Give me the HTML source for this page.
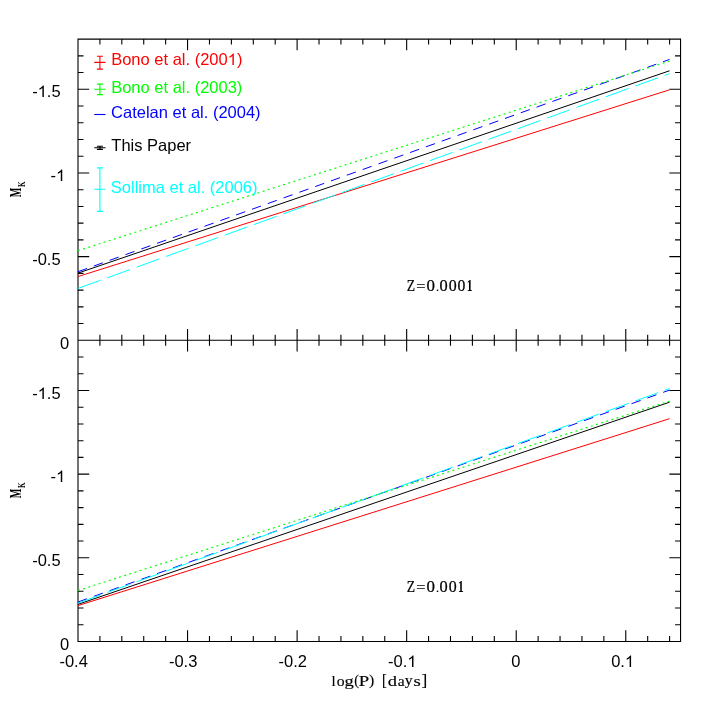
<!DOCTYPE html>
<html><head><meta charset="utf-8"><title>PLK relations</title>
<style>html,body{margin:0;padding:0;background:#fff;}svg{display:block;will-change:transform;}text{font-family:"Liberation Sans",sans-serif;}.s{font-family:"Liberation Serif",serif;}</style></head><body>
<svg width="718" height="718" viewBox="0 0 718 718">
<rect x="0" y="0" width="718" height="718" fill="#fff"/>
<path d="M99.91 39.10v5.5M99.91 334.80v11.0M99.91 641.45v-5.5M121.82 39.10v5.5M121.82 334.80v11.0M121.82 641.45v-5.5M143.73 39.10v5.5M143.73 334.80v11.0M143.73 641.45v-5.5M165.64 39.10v5.5M165.64 334.80v11.0M165.64 641.45v-5.5M187.55 39.10v11.2M187.55 329.10v22.4M187.55 641.45v-11.2M209.47 39.10v5.5M209.47 334.80v11.0M209.47 641.45v-5.5M231.38 39.10v5.5M231.38 334.80v11.0M231.38 641.45v-5.5M253.29 39.10v5.5M253.29 334.80v11.0M253.29 641.45v-5.5M275.20 39.10v5.5M275.20 334.80v11.0M275.20 641.45v-5.5M297.11 39.10v11.2M297.11 329.10v22.4M297.11 641.45v-11.2M319.02 39.10v5.5M319.02 334.80v11.0M319.02 641.45v-5.5M340.93 39.10v5.5M340.93 334.80v11.0M340.93 641.45v-5.5M362.84 39.10v5.5M362.84 334.80v11.0M362.84 641.45v-5.5M384.75 39.10v5.5M384.75 334.80v11.0M384.75 641.45v-5.5M406.66 39.10v11.2M406.66 329.10v22.4M406.66 641.45v-11.2M428.57 39.10v5.5M428.57 334.80v11.0M428.57 641.45v-5.5M450.49 39.10v5.5M450.49 334.80v11.0M450.49 641.45v-5.5M472.40 39.10v5.5M472.40 334.80v11.0M472.40 641.45v-5.5M494.31 39.10v5.5M494.31 334.80v11.0M494.31 641.45v-5.5M516.22 39.10v11.2M516.22 329.10v22.4M516.22 641.45v-11.2M538.13 39.10v5.5M538.13 334.80v11.0M538.13 641.45v-5.5M560.04 39.10v5.5M560.04 334.80v11.0M560.04 641.45v-5.5M581.95 39.10v5.5M581.95 334.80v11.0M581.95 641.45v-5.5M603.86 39.10v5.5M603.86 334.80v11.0M603.86 641.45v-5.5M625.77 39.10v11.2M625.77 329.10v22.4M625.77 641.45v-11.2M647.68 39.10v5.5M647.68 334.80v11.0M647.68 641.45v-5.5M669.59 39.10v5.5M669.59 334.80v11.0M669.59 641.45v-5.5M78.00 323.57h5.5M680.55 323.57h-5.5M78.00 624.72h5.5M680.55 624.72h-5.5M78.00 306.83h5.5M680.55 306.83h-5.5M78.00 607.99h5.5M680.55 607.99h-5.5M78.00 290.10h5.5M680.55 290.10h-5.5M78.00 591.26h5.5M680.55 591.26h-5.5M78.00 273.37h5.5M680.55 273.37h-5.5M78.00 574.53h5.5M680.55 574.53h-5.5M78.00 256.63h11.2M680.55 256.63h-11.2M78.00 557.80h11.2M680.55 557.80h-11.2M78.00 239.90h5.5M680.55 239.90h-5.5M78.00 541.07h5.5M680.55 541.07h-5.5M78.00 223.17h5.5M680.55 223.17h-5.5M78.00 524.34h5.5M680.55 524.34h-5.5M78.00 206.43h5.5M680.55 206.43h-5.5M78.00 507.61h5.5M680.55 507.61h-5.5M78.00 189.70h5.5M680.55 189.70h-5.5M78.00 490.88h5.5M680.55 490.88h-5.5M78.00 172.97h11.2M680.55 172.97h-11.2M78.00 474.14h11.2M680.55 474.14h-11.2M78.00 156.23h5.5M680.55 156.23h-5.5M78.00 457.41h5.5M680.55 457.41h-5.5M78.00 139.50h5.5M680.55 139.50h-5.5M78.00 440.68h5.5M680.55 440.68h-5.5M78.00 122.77h5.5M680.55 122.77h-5.5M78.00 423.95h5.5M680.55 423.95h-5.5M78.00 106.03h5.5M680.55 106.03h-5.5M78.00 407.22h5.5M680.55 407.22h-5.5M78.00 89.30h11.2M680.55 89.30h-11.2M78.00 390.49h11.2M680.55 390.49h-11.2M78.00 72.57h5.5M680.55 72.57h-5.5M78.00 373.76h5.5M680.55 373.76h-5.5M78.00 55.83h5.5M680.55 55.83h-5.5M78.00 357.03h5.5M680.55 357.03h-5.5" stroke="#000" stroke-width="1.1" fill="none"/>
<path d="M78.0 39.1H680.55V641.45H78.0Z M78.0 340.3H680.55" stroke="#000" stroke-width="1.1" fill="none" stroke-linejoin="miter"/>
<path d="M78.00 276.55L669.59 89.8" stroke="#ff0000" stroke-width="1.0" fill="none"/>
<path d="M78.00 273.1L669.59 70.75" stroke="#000" stroke-width="1.0" fill="none"/>
<path d="M78.00 271.7L669.59 59.4" stroke="#0000ff" stroke-width="1.0" fill="none" stroke-dasharray="9.6 7.2"/>
<path d="M78.00 288.45L669.59 73.6" stroke="#00ffff" stroke-width="1.0" fill="none" stroke-dasharray="24.2 7"/>
<path d="M78.00 250.65L669.59 61.0" stroke="#00ff00" fill="none" stroke-dasharray="2.0 3.385" stroke-width="1.15"/>
<path d="M78.00 605.6L669.59 418.7" stroke="#ff0000" stroke-width="1.0" fill="none"/>
<path d="M78.00 604.3L669.59 402.2" stroke="#000" stroke-width="1.0" fill="none"/>
<path d="M78.00 602.0L669.59 390.05" stroke="#0000ff" stroke-width="1.0" fill="none" stroke-dasharray="9.6 7.2"/>
<path d="M78.00 603.1L669.59 388.5" stroke="#00ffff" stroke-width="1.0" fill="none" stroke-dasharray="24.2 7"/>
<path d="M78.00 590.5L669.59 401.1" stroke="#00ff00" fill="none" stroke-dasharray="2.0 3.385" stroke-width="1.15"/>
<path d="M94.25 62.4H105.55000000000001M99.9 56.3V69.1M96.9 56.3h6.0M96.9 69.1h6.0" stroke="#ff0000" stroke-width="1.1" fill="none"/>
<path d="M94.25 89.3H105.55000000000001M99.9 84.1V94.6M96.9 84.1h6.0M96.9 94.6h6.0" stroke="#00ff00" stroke-width="1.1" fill="none"/>
<path d="M94.25 114.5H105.55000000000001" stroke="#0000ff" stroke-width="1.1" fill="none"/>
<path d="M94.25 147.8H105.55000000000001M99.9 146.3V149.4M96.9 146.3h6.0M96.9 149.4h6.0" stroke="#000" stroke-width="1.1" fill="none"/>
<path d="M94.25 189.3H105.55000000000001M99.9 167.9V211.4M96.9 167.9h6.0M96.9 211.4h6.0" stroke="#00ffff" stroke-width="1.1" fill="none"/>
<text x="111.20" y="65" font-size="16.5" fill="#ff0000">Bono et al. (200</text>
<path transform="translate(227.70 65) scale(0.00806 -0.00806)" d="M763 0H583V1114Q518 1054 412 994Q307 934 223 904V1073Q374 1142 487 1240Q600 1338 647 1430H763Z" fill="#ff0000"/>
<text x="236.88" y="65" font-size="16.5" fill="#ff0000">)</text>
<text x="111.2" y="93" font-size="16.5" fill="#00ff00" text-anchor="start">Bono et al. (2003)</text>
<text x="111.1" y="118" font-size="16.5" fill="#0000ff" text-anchor="start">Catelan et al. (2004)</text>
<text x="111.3" y="151" font-size="16.5" fill="#000" text-anchor="start">This Paper</text>
<text x="110.8" y="193" font-size="16.5" fill="#00ffff" text-anchor="start">Sollima et al. (2006)</text>
<text x="32.20" y="97" font-size="16.5" fill="#000">-</text>
<path transform="translate(37.69 97) scale(0.00806 -0.00806)" d="M763 0H583V1114Q518 1054 412 994Q307 934 223 904V1073Q374 1142 487 1240Q600 1338 647 1430H763Z" fill="#000"/>
<text x="46.87" y="97" font-size="16.5" fill="#000">.5</text>
<text x="50.60" y="181" font-size="16.5" fill="#000">-</text>
<path transform="translate(56.09 181) scale(0.00806 -0.00806)" d="M763 0H583V1114Q518 1054 412 994Q307 934 223 904V1073Q374 1142 487 1240Q600 1338 647 1430H763Z" fill="#000"/>
<text x="32.2" y="265" font-size="16.5" fill="#000" text-anchor="start">-0.5</text>
<text x="32.20" y="399" font-size="16.5" fill="#000">-</text>
<path transform="translate(37.69 399) scale(0.00806 -0.00806)" d="M763 0H583V1114Q518 1054 412 994Q307 934 223 904V1073Q374 1142 487 1240Q600 1338 647 1430H763Z" fill="#000"/>
<text x="46.87" y="399" font-size="16.5" fill="#000">.5</text>
<text x="50.60" y="482" font-size="16.5" fill="#000">-</text>
<path transform="translate(56.09 482) scale(0.00806 -0.00806)" d="M763 0H583V1114Q518 1054 412 994Q307 934 223 904V1073Q374 1142 487 1240Q600 1338 647 1430H763Z" fill="#000"/>
<text x="32.2" y="566" font-size="16.5" fill="#000" text-anchor="start">-0.5</text>
<text x="59.9" y="650" font-size="16.5" fill="#000" text-anchor="start">0</text>
<text x="59.9" y="349" font-size="16.5" fill="#000" text-anchor="start">0</text>
<text x="59.4" y="667" font-size="16.5" fill="#000" text-anchor="start">-0.4</text>
<text x="168.95454545454547" y="667" font-size="16.5" fill="#000" text-anchor="start">-0.3</text>
<text x="278.50909090909084" y="667" font-size="16.5" fill="#000" text-anchor="start">-0.2</text>
<text x="388.06" y="667" font-size="16.5" fill="#000">-0.</text>
<path transform="translate(407.32 667) scale(0.00806 -0.00806)" d="M763 0H583V1114Q518 1054 412 994Q307 934 223 904V1073Q374 1142 487 1240Q600 1338 647 1430H763Z" fill="#000"/>
<text x="511.21818181818173" y="667" font-size="16.5" fill="#000" text-anchor="start">0</text>
<text x="611.17" y="667" font-size="16.5" fill="#000">0.</text>
<path transform="translate(624.93 667) scale(0.00806 -0.00806)" d="M763 0H583V1114Q518 1054 412 994Q307 934 223 904V1073Q374 1142 487 1240Q600 1338 647 1430H763Z" fill="#000"/>
<text class="s" transform="translate(406.67 290.68) scale(0.855 0.983)" font-size="16" stroke="#000" stroke-width="0.25">Z</text>
<text class="s" transform="translate(416.16 291.48) scale(1.021 0.938)" font-size="16" stroke="#000" stroke-width="0.25">=</text>
<text class="s" transform="translate(426.43 290.67) scale(1.054 0.982)" font-size="16" stroke="#000" stroke-width="0.25">0</text>
<text class="s" transform="translate(436.02 290.66) scale(0.767 0.740)" font-size="16" stroke="#000" stroke-width="0.25">.</text>
<text class="s" transform="translate(439.50 290.67) scale(1.025 0.982)" font-size="16" stroke="#000" stroke-width="0.25">0</text>
<text class="s" transform="translate(448.72 290.67) scale(0.995 0.982)" font-size="16" stroke="#000" stroke-width="0.25">0</text>
<text class="s" transform="translate(457.43 290.67) scale(0.981 0.982)" font-size="16" stroke="#000" stroke-width="0.25">0</text>
<text class="s" transform="translate(466.83 290.80) scale(0.721 0.999)" font-size="16" font-weight="bold">1</text>
<text class="s" transform="translate(406.67 591.67) scale(0.855 0.983)" font-size="16" stroke="#000" stroke-width="0.25">Z</text>
<text class="s" transform="translate(416.16 592.48) scale(1.021 0.938)" font-size="16" stroke="#000" stroke-width="0.25">=</text>
<text class="s" transform="translate(426.43 591.67) scale(1.054 0.982)" font-size="16" stroke="#000" stroke-width="0.25">0</text>
<text class="s" transform="translate(436.02 591.66) scale(0.767 0.740)" font-size="16" stroke="#000" stroke-width="0.25">.</text>
<text class="s" transform="translate(439.50 591.67) scale(1.025 0.982)" font-size="16" stroke="#000" stroke-width="0.25">0</text>
<text class="s" transform="translate(448.72 591.67) scale(0.995 0.982)" font-size="16" stroke="#000" stroke-width="0.25">0</text>
<text class="s" transform="translate(458.09 591.80) scale(0.713 0.999)" font-size="16" font-weight="bold">1</text>
<text class="s" transform="translate(331.58 685.52) scale(0.933 0.878)" font-size="16" stroke="#000" stroke-width="0.15">l</text>
<text class="s" transform="translate(336.68 685.58) scale(0.981 0.955)" font-size="16" stroke="#000" stroke-width="0.15">o</text>
<text class="s" transform="translate(344.48 685.59) scale(1.163 0.879)" font-size="16" stroke="#000" stroke-width="0.15">g</text>
<text class="s" transform="translate(354.15 685.33) scale(0.888 0.968)" font-size="16" stroke="#000" stroke-width="0.15">(</text>
<text class="s" transform="translate(358.73 685.52) scale(1.174 0.902)" font-size="16" stroke="#000" stroke-width="0.15">P</text>
<text class="s" transform="translate(369.07 685.33) scale(0.986 0.968)" font-size="16" stroke="#000" stroke-width="0.15">)</text>
<text class="s" transform="translate(382.06 686.27) scale(0.898 1.099)" font-size="16" stroke="#000" stroke-width="0.15">[</text>
<text class="s" transform="translate(387.71 685.59) scale(1.155 0.884)" font-size="16" stroke="#000" stroke-width="0.15">d</text>
<text class="s" transform="translate(397.73 685.58) scale(0.973 0.959)" font-size="16" stroke="#000" stroke-width="0.15">a</text>
<text class="s" transform="translate(404.68 685.41) scale(0.988 0.931)" font-size="16" stroke="#000" stroke-width="0.15">y</text>
<text class="s" transform="translate(413.61 685.58) scale(1.172 0.955)" font-size="16" stroke="#000" stroke-width="0.15">s</text>
<text class="s" transform="translate(421.55 686.27) scale(1.081 1.099)" font-size="16" stroke="#000" stroke-width="0.15">]</text>
<text class="s" transform="translate(21.20 197.32) rotate(-90) scale(0.637 1.040)" font-size="16" font-weight="bold">M</text>
<text class="s" transform="translate(24.95 187.02) rotate(-90) scale(0.717 1.054)" font-size="10" font-weight="bold">K</text>
<text class="s" transform="translate(21.20 498.32) rotate(-90) scale(0.637 1.040)" font-size="16" font-weight="bold">M</text>
<text class="s" transform="translate(24.95 488.02) rotate(-90) scale(0.717 1.054)" font-size="10" font-weight="bold">K</text>
</svg></body></html>
